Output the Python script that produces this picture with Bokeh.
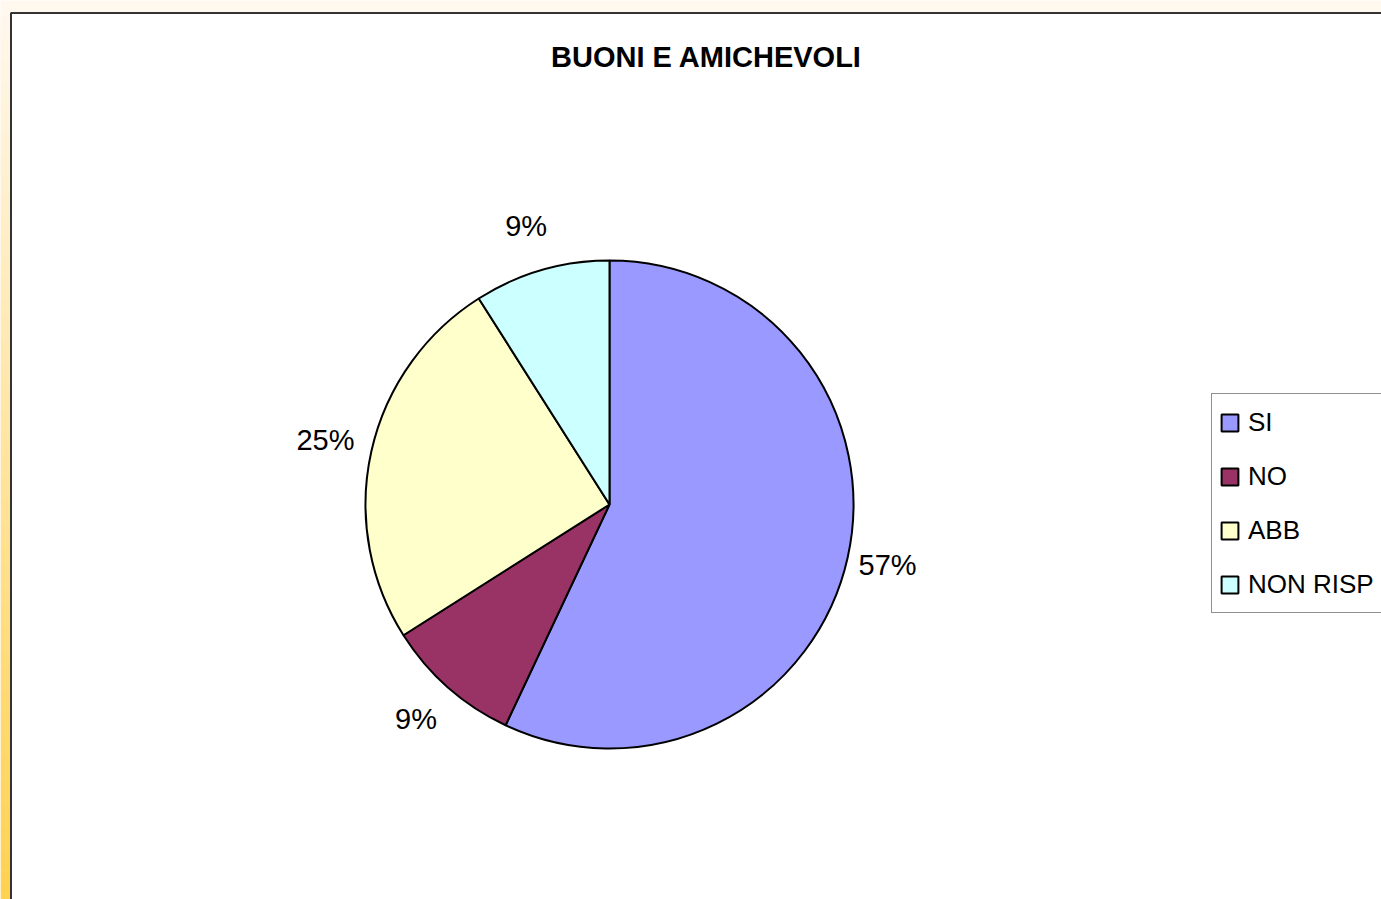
import numpy as np
from bokeh.plotting import figure
from bokeh.models import Range1d, ColumnDataSource, Legend, LegendItem, Label
from bokeh.core.properties import value
from bokeh.embed import file_html
from bokeh.resources import INLINE

# ---- data ----
categories = ["SI", "NO", "ABB", "NON RISP"]
percentages = [57, 9, 25, 9]
colors = ["#9999FF", "#993366", "#FFFFCC", "#CCFFFF"]
title_text = "BUONI E AMICHEVOLI"

FONT = "Liberation Sans"

W, H = 1381, 899
PAGE_H = 899
p = figure(width=W, height=H, output_backend="svg", toolbar_location=None,
           x_range=Range1d(0, W), y_range=Range1d(PAGE_H - H, PAGE_H),
           x_axis_type=None, y_axis_type=None, min_border=0)
p.grid.visible = False
p.outline_line_color = None
p.background_fill_color = "#FFF8EE"
p.border_fill_color = "#FFF8EE"

# background gradient strip on the left (decoration)
n = 200
top_c = np.array([255, 248, 238])
bot_c = np.array([255, 210, 80])
t = np.linspace(0, 1, n)[:, None]  # row 0 = bottom
cols = (bot_c * (1 - t) + top_c * t).astype(np.uint32)
img = np.empty((n, 1), dtype=np.uint32)
view = img.view(dtype=np.uint8).reshape((n, 1, 4))
view[:, 0, 0] = cols[:, 0]
view[:, 0, 1] = cols[:, 1]
view[:, 0, 2] = cols[:, 2]
view[:, 0, 3] = 255
p.image_rgba(image=[img], x=0, y=0, dw=20, dh=PAGE_H - 12)

# white chart area with border
p.quad(left=10.5, right=1500, top=PAGE_H - 12.5, bottom=-50,
       fill_color="white", line_color="#333333", line_width=2)

# ---- pie ----
cx, cy, r = 609, PAGE_H - 504, 244
vals = np.array(percentages, dtype=float)
frac = vals / vals.sum()
cum_end = np.cumsum(frac)
cum_start = cum_end - frac
start_angle = np.pi / 2 - cum_end * 2 * np.pi
end_angle = np.pi / 2 - cum_start * 2 * np.pi

src = ColumnDataSource(dict(cat=categories, start=start_angle, end=end_angle,
                            color=colors))
wr = p.wedge(x=cx, y=cy, radius=r, start_angle="start", end_angle="end",
             direction="anticlock", fill_color="color", line_color="black",
             line_width=2, source=src)

# labels
mid = (cum_start + cum_end) / 2
R = 288
lsrc = ColumnDataSource(dict(x=cx + R * np.sin(2 * np.pi * mid) - 3,
                             y=cy + R * np.cos(2 * np.pi * mid) + 2,
                             t=[f"{v}%" for v in percentages]))
p.text(x="x", y="y", text="t", source=lsrc, text_align="center",
       text_baseline="middle", text_font=value(FONT), text_font_size="29px",
       text_color="black")

# title
p.add_layout(Label(x=706, y=PAGE_H - 56, text=title_text, text_align="center",
                   text_baseline="middle", text_font=FONT, text_font_size="29px",
                   text_font_style="bold", text_color="black"))

# legend
items = [LegendItem(label=c, renderers=[wr], index=i) for i, c in enumerate(categories)]
legend = Legend(items=items, location=(1211, 286), orientation="vertical",
                glyph_width=21, glyph_height=21, label_standoff=8,
                label_text_font=FONT, label_text_font_size="26px",
                label_text_color="black",
                label_height=42, label_width=200, spacing=12, padding=7,
                margin=0, border_line_color="#222222", border_line_width=1,
                background_fill_color="white", background_fill_alpha=1.0)
p.add_layout(legend)

open("out.html", "w").write(file_html(p, INLINE))
